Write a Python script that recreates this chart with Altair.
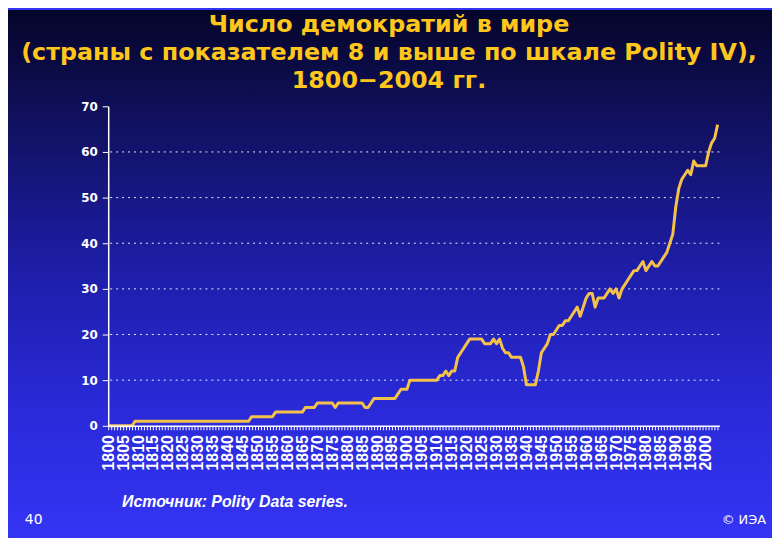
import altair as alt
import pandas as pd

# ---------------- data ----------------
years = list(range(1800, 2005))
counts = [
    0, 0, 0, 0, 0, 0, 0, 0, 0, 1,            # 1800s
    1, 1, 1, 1, 1, 1, 1, 1, 1, 1,            # 1810s
    1, 1, 1, 1, 1, 1, 1, 1, 1, 1,            # 1820s
    1, 1, 1, 1, 1, 1, 1, 1, 1, 1,            # 1830s
    1, 1, 1, 1, 1, 1, 1, 1, 2, 2,            # 1840s
    2, 2, 2, 2, 2, 2, 3, 3, 3, 3,            # 1850s
    3, 3, 3, 3, 3, 3, 4, 4, 4, 4,            # 1860s
    5, 5, 5, 5, 5, 5, 4, 5, 5, 5,            # 1870s
    5, 5, 5, 5, 5, 5, 4, 4, 5, 6,            # 1880s
    6, 6, 6, 6, 6, 6, 6, 7, 8, 8,            # 1890s
    8, 10, 10, 10, 10, 10, 10, 10, 10, 10,   # 1900s
    10, 11, 11, 12, 11, 12, 12, 15, 16, 17,  # 1910s
    18, 19, 19, 19, 19, 19, 18, 18, 18, 19,  # 1920s
    18, 19, 17, 16, 16, 15, 15, 15, 15, 13,  # 1930s
    9, 9, 9, 9, 12, 16, 17, 18, 20, 20,      # 1940s
    21, 22, 22, 23, 23, 24, 25, 26, 24, 26,  # 1950s
    28, 29, 29, 26, 28, 28, 28, 29, 30, 29,  # 1960s
    30, 28, 30, 31, 32, 33, 34, 34, 35, 36,  # 1970s
    34, 35, 36, 35, 35, 36, 37, 38, 40, 42,  # 1980s
    48, 52, 54, 55, 56, 55, 58, 57, 57, 57,  # 1990s
    57, 60, 62, 63, 66,                      # 2000s
]
assert len(counts) == len(years)

grid_values = [10, 20, 30, 40, 50, 60]
y_tick_values = [0, 10, 20, 30, 40, 50, 60, 70]

title_lines = [
    "Число демократий в мире",
    "(страны с показателем 8 и выше по шкале Polity IV),",
    "1800\u22122004 гг.",
]
source_text = "Источник: Polity Data series."
slide_number = "40"
copyright_text = "© ИЭА"

# ---------------- layout ----------------
W, H = 616, 322
PAD = {"left": 101, "top": 97, "right": 53, "bottom": 111}

GOLD = "#FFC61C"
LINE = "#F4C24A"

df = pd.DataFrame({"year": years, "count": counts})
one = pd.DataFrame({"k": [0]})

gradient = alt.LinearGradient(
    gradient="linear",
    stops=[
        alt.GradientStop(color="#05052a", offset=0),
        alt.GradientStop(color="#10105c", offset=0.2),
        alt.GradientStop(color="#1e1eaa", offset=0.5),
        alt.GradientStop(color="#2b2bdc", offset=0.78),
        alt.GradientStop(color="#3434f4", offset=1),
    ],
    x1=0, x2=0, y1=0, y2=1,
)

bg = alt.Chart(one).mark_rect(fill=gradient, stroke=None).encode(
    x=alt.value(-PAD["left"]),
    x2=alt.value(W + PAD["right"]),
    y=alt.value(-PAD["top"]),
    y2=alt.value(H + PAD["bottom"]),
)

x_scale = alt.Scale(domain=[1800, 2004.6], nice=False, zero=False)
y_scale = alt.Scale(domain=[0, 70], nice=False)

y_axis = alt.Axis(
    values=y_tick_values,
    labelFont="DejaVu Sans",
    labelFontSize=12,
    labelFontWeight="bold",
    labelColor="#ffffff",
    labelPadding=5,
    tickColor="#ffffff",
    tickSize=6,
    domainColor="#ffffff",
    domainWidth=1.5,
    grid=False,
    zindex=1,
)

x_axis = alt.Axis(
    values=years,
    labelExpr="datum.value % 5 == 0 ? format(datum.value, 'd') : ''",
    labelAngle=-90,
    labelFont="Liberation Sans Narrow, Liberation Sans",
    labelFontSize=16,
    labelFontWeight="bold",
    labelColor="#ffffff",
    labelPadding=5,
    labelOverlap=False,
    labelFlush=False,
    labelBound=False,
    tickColor="#ffffff",
    tickSize=4,
    tickWidth=1,
    domainColor="#ffffff",
    domainWidth=1.5,
    grid=False,
    zindex=1,
)

grid = alt.Chart(pd.DataFrame({"g": grid_values})).mark_rule(
    color="#ffffff", strokeWidth=1, strokeDash=[2, 4], opacity=0.9
).encode(y=alt.Y("g:Q", scale=y_scale, axis=y_axis, title=None))

line = alt.Chart(df).mark_line(
    color=LINE, strokeWidth=3, strokeJoin="round"
).encode(
    x=alt.X("year:Q", scale=x_scale, title=None, axis=x_axis),
    y=alt.Y("count:Q", scale=y_scale, title=None, axis=y_axis),
)


def text_layer(txt, x, y, size, color, font, weight="normal", style="normal", align="center"):
    return alt.Chart(pd.DataFrame({"t": [txt]})).mark_text(
        font=font, fontSize=size, fontWeight=weight, fontStyle=style,
        color=color, align=align, baseline="alphabetic",
    ).encode(text="t:N", x=alt.value(x), y=alt.value(y))


CX = 392 - 109  # page centre relative to plot-left
title_font = "DejaVu Sans"
titles = [
    text_layer(title_lines[0], CX, 30 - 105, 24, GOLD, title_font, "bold"),
    text_layer(title_lines[1], CX, 58 - 105, 24, GOLD, title_font, "bold"),
    text_layer(title_lines[2], CX, 87 - 105, 24, GOLD, title_font, "bold"),
]
source = text_layer(source_text, 123 - 109, 509 - 105, 16, "#ffffff",
                    "Liberation Sans", "bold", "italic", "left")
num = text_layer(slide_number, 25 - 109, 526 - 105, 14, "#ffffff",
                 "DejaVu Sans", "normal", "normal", "left")
copy_ = text_layer(copyright_text, 772 - 109, 526 - 105, 13, "#ffffff",
                   "DejaVu Sans", "normal", "normal", "right")

chart = alt.layer(bg, grid, line, *titles, source, num, copy_).properties(
    width=W,
    height=H,
    padding=PAD,
    autosize=alt.AutoSizeParams(type="none"),
    background="#3434f4",
).configure_view(stroke=None)

chart.save("out.html", embed_options={"renderer": "svg", "actions": False})
